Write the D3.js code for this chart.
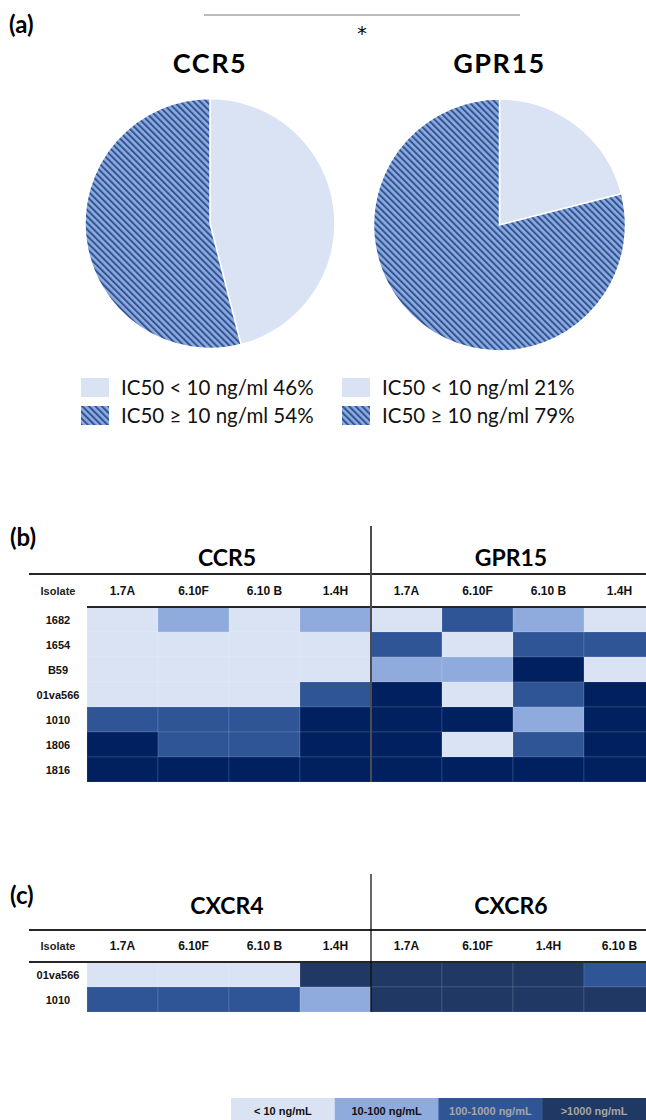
<!DOCTYPE html>
<html>
<head>
<meta charset="utf-8">
<script src="https://cdn.jsdelivr.net/npm/d3@7"></script>
<style>
  body { margin: 0; background: #fff; }
  svg { display: block; }
</style>
</head>
<body>
<script>
// Pie data (panel a)
const pieNames = ["CCR5", "GPR15"];
const pieLabels = ["IC50 < 10 ng/ml", "IC50 \u2265 10 ng/ml"];
const ccr5Pct = [46, 54];
const gpr15Pct = [21, 79];

// Heatmap data (panel b), level 0..3 = <10, 10-100, 100-1000, >1000 ng/mL
const isolatesB = ["1682", "1654", "B59", "01va566", "1010", "1806", "1816"];
const ccr5Cols = ["1.7A", "6.10F", "6.10 B", "1.4H"];
const gpr15Cols = ["1.7A", "6.10F", "6.10 B", "1.4H"];
const ccr5Levels = [
  [0, 1, 0, 1],
  [0, 0, 0, 0],
  [0, 0, 0, 0],
  [0, 0, 0, 2],
  [2, 2, 2, 3],
  [3, 2, 2, 3],
  [3, 3, 3, 3]
];
const gpr15Levels = [
  [0, 2, 1, 0],
  [2, 0, 2, 2],
  [1, 1, 3, 0],
  [3, 0, 2, 3],
  [3, 3, 1, 3],
  [3, 0, 2, 3],
  [3, 3, 3, 3]
];

// Heatmap data (panel c)
const isolatesC = ["01va566", "1010"];
const cxcr4Cols = ["1.7A", "6.10F", "6.10 B", "1.4H"];
const cxcr6Cols = ["1.7A", "6.10F", "1.4H", "6.10 B"];
const cxcr4Levels = [
  [0, 0, 0, 3],
  [2, 2, 2, 1]
];
const cxcr6Levels = [
  [3, 3, 3, 2],
  [3, 3, 3, 3]
];

const levelLabels = ["< 10 ng/mL", "10-100 ng/mL", "100-1000 ng/mL", ">1000 ng/mL"];

const W = 646, H = 1120;
const calibri = "Lato, 'Open Sans', sans-serif";
const narrow = "'Liberation Sans Narrow', 'Arial Narrow', 'Liberation Sans', Arial, sans-serif";

let svg = d3.select("body").append("svg")
  .attr("width", W)
  .attr("height", H);

// hatch pattern for the >= 10 slice
let defs = svg.append("defs");
let pat = defs.append("pattern")
  .attr("id", "hatch")
  .attr("patternUnits", "userSpaceOnUse")
  .attr("width", 4.6)
  .attr("height", 4.6)
  .attr("patternTransform", "rotate(-45)");
pat.append("rect").attr("width", 4.6).attr("height", 4.6).attr("fill", "#8faadc");
pat.append("rect").attr("width", 2).attr("height", 4.6).attr("fill", "#2f5597");

const pieFill = ["#dae3f3", "url(#hatch)"];

// ---------- panel (a) ----------
svg.append("text").attr("x", 9).attr("y", 33)
  .attr("font-family", calibri).attr("font-weight", "bold").attr("font-size", 24)
  .text("(a)");

// significance bracket
svg.append("line").attr("x1", 204).attr("x2", 520).attr("y1", 15).attr("y2", 15)
  .attr("stroke", "#a6a6a6").attr("stroke-width", 1.5);
svg.append("text").attr("x", 362).attr("y", 40).attr("text-anchor", "middle")
  .attr("font-family", "'DejaVu Sans', sans-serif").attr("font-size", 19).text("*");

const pieLayout = [
  { values: ccr5Pct, cx: 210, cy: 223.5, r: 125, lx: 81 },
  { values: gpr15Pct, cx: 499.5, cy: 225, r: 126, lx: 342 }
];

let pie = d3.pie().sort(null);

pieLayout.forEach((p, i) => {
  svg.append("text")
    .attr("x", p.cx).attr("y", 73)
    .attr("text-anchor", "middle")
    .attr("font-family", calibri).attr("font-weight", "bold")
    .attr("font-size", 27).attr("letter-spacing", 1.5)
    .text(pieNames[i]);

  let arc = d3.arc().innerRadius(0).outerRadius(p.r);
  let g = svg.append("g").attr("transform", `translate(${p.cx},${p.cy})`);
  g.selectAll("path")
    .data(pie(p.values))
    .join("path")
    .attr("d", arc)
    .attr("fill", (d, j) => pieFill[j])
    .attr("stroke", "#fff")
    .attr("stroke-width", 1.5);

  // legend
  let lg = svg.append("g");
  lg.selectAll("rect")
    .data(p.values)
    .join("rect")
    .attr("x", p.lx)
    .attr("y", (d, j) => 378 + j * 28)
    .attr("width", 28).attr("height", 19)
    .attr("fill", (d, j) => pieFill[j]);
  lg.selectAll("text")
    .data(p.values)
    .join("text")
    .attr("x", p.lx + 40)
    .attr("y", (d, j) => 395 + j * 28)
    .attr("font-family", calibri).attr("font-size", 20.5)
    .attr("fill", "#111")
    .text((d, j) => `${pieLabels[j]} ${d}%`);
});

// ---------- heatmaps ----------
function drawTable(o) {
  let cols = o.leftCols.map(c => "L|" + c).concat(o.rightCols.map(c => "R|" + c));
  let x = d3.scaleBand().domain(d3.range(cols.length)).range([87, 87 + 71 * cols.length]);
  let y = d3.scaleBand().domain(o.rows).range([o.bodyTop, o.bodyTop + 25 * o.rows.length]);
  let color = d3.scaleOrdinal().domain([0, 1, 2, 3]).range(o.colors);

  // panel letter
  svg.append("text").attr("x", 10).attr("y", o.letterY)
    .attr("font-family", calibri).attr("font-weight", "bold").attr("font-size", 24)
    .text(o.letter);

  // group titles
  [[o.leftName, 0], [o.rightName, 4]].forEach(([name, k]) => {
    svg.append("text")
      .attr("x", x(k) + 2 * x.bandwidth() - 2)
      .attr("y", o.titleY)
      .attr("text-anchor", "middle")
      .attr("font-family", calibri).attr("font-weight", "bold").attr("font-size", 23)
      .text(name);
  });

  // cells
  let cells = [];
  o.rows.forEach((r, i) => {
    o.leftVals[i].forEach((v, j) => cells.push({ row: r, col: j, v: v }));
    o.rightVals[i].forEach((v, j) => cells.push({ row: r, col: j + 4, v: v }));
  });
  svg.append("g").selectAll("rect")
    .data(cells)
    .join("rect")
    .attr("x", d => x(d.col))
    .attr("y", d => y(d.row))
    .attr("width", x.bandwidth())
    .attr("height", y.bandwidth())
    .attr("fill", d => color(d.v))
    .attr("stroke", "rgba(255,255,255,0.15)")
    .attr("stroke-width", 0.8);

  // header
  let headY = o.headTop + (o.bodyTop - o.headTop) / 2 + 4;
  svg.append("text").attr("x", 58).attr("y", headY)
    .attr("text-anchor", "middle")
    .attr("font-family", narrow).attr("font-weight", "bold").attr("font-size", 11)
    .attr("fill", "#222").text("Isolate");
  svg.append("g").selectAll("text")
    .data(cols)
    .join("text")
    .attr("x", (d, i) => x(i) + x.bandwidth() / 2)
    .attr("y", headY)
    .attr("text-anchor", "middle")
    .attr("font-family", narrow).attr("font-weight", "bold").attr("font-size", 12)
    .attr("fill", "#111")
    .text(d => d.split("|")[1]);

  // row labels
  svg.append("g").selectAll("text")
    .data(o.rows)
    .join("text")
    .attr("x", 58)
    .attr("y", d => y(d) + y.bandwidth() / 2 + 4)
    .attr("text-anchor", "middle")
    .attr("font-family", narrow).attr("font-weight", "bold").attr("font-size", 11)
    .attr("fill", "#111")
    .text(d => d);

  // rules
  svg.append("line").attr("x1", 29).attr("x2", W).attr("y1", o.headTop).attr("y2", o.headTop)
    .attr("stroke", "#262626").attr("stroke-width", 2);
  svg.append("line").attr("x1", o.subRuleX).attr("x2", W).attr("y1", o.bodyTop).attr("y2", o.bodyTop)
    .attr("stroke", "#262626").attr("stroke-width", 2);
  svg.append("line")
    .attr("x1", x(4)).attr("x2", x(4))
    .attr("y1", o.vTop).attr("y2", y.range()[1])
    .attr("stroke", o.vColor).attr("stroke-width", o.vWidth);
}

drawTable({
  letter: "(b)", letterY: 546,
  leftName: "CCR5", rightName: "GPR15", titleY: 566,
  leftCols: ccr5Cols, rightCols: gpr15Cols,
  leftVals: ccr5Levels, rightVals: gpr15Levels,
  rows: isolatesB,
  headTop: 574, bodyTop: 607, subRuleX: 87, vTop: 526,
  vColor: "#4d4d4d", vWidth: 2,
  colors: ["#dae3f3", "#8faadc", "#2f5597", "#002060"]
});

drawTable({
  letter: "(c)", letterY: 904,
  leftName: "CXCR4", rightName: "CXCR6", titleY: 914,
  leftCols: cxcr4Cols, rightCols: cxcr6Cols,
  leftVals: cxcr4Levels, rightVals: cxcr6Levels,
  rows: isolatesC,
  headTop: 930, bodyTop: 962, subRuleX: 29, vTop: 874,
  vColor: "#000", vWidth: 1.2,
  colors: ["#dae3f3", "#8faadc", "#2f5597", "#203864"]
});

// ---------- colour legend ----------
const legendColors = ["#dae3f3", "#8faadc", "#2f5597", "#203864"];
const legendText = ["#111", "#111", "#a6a6a6", "#a6a6a6"];
let lx = d3.scaleBand().domain(d3.range(levelLabels.length)).range([231, W]);
let leg = svg.append("g");
leg.selectAll("rect")
  .data(levelLabels)
  .join("rect")
  .attr("x", (d, i) => lx(i))
  .attr("y", 1098)
  .attr("width", lx.bandwidth() + 0.5)
  .attr("height", 24)
  .attr("fill", (d, i) => legendColors[i]);
leg.selectAll("text")
  .data(levelLabels)
  .join("text")
  .attr("x", (d, i) => lx(i) + lx.bandwidth() / 2)
  .attr("y", 1115)
  .attr("text-anchor", "middle")
  .attr("font-family", "'Liberation Sans', Arial, sans-serif")
  .attr("font-weight", "bold").attr("font-size", 11)
  .attr("fill", (d, i) => legendText[i])
  .text(d => d);
</script>
</body>
</html>
